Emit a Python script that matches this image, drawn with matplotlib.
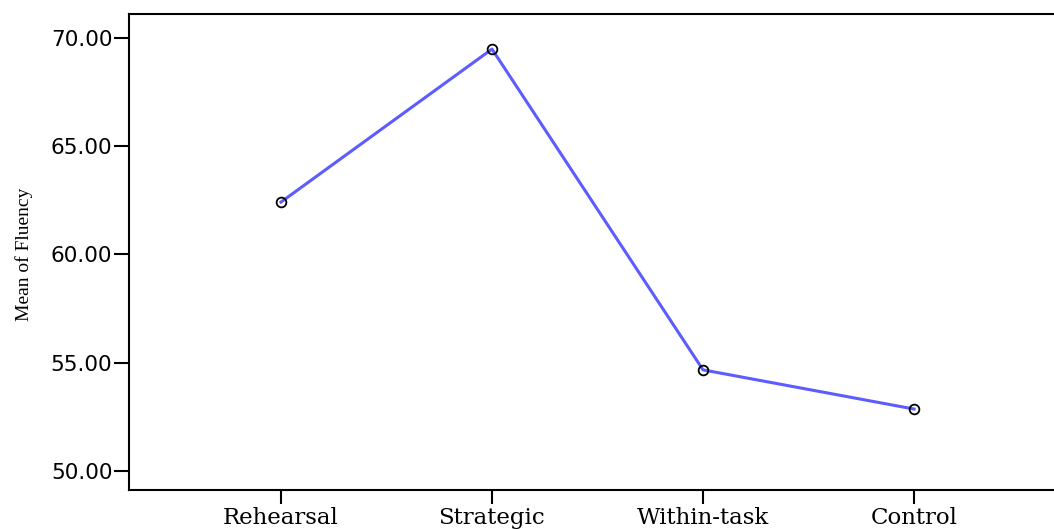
import matplotlib
matplotlib.use("Agg")
import matplotlib.pyplot as plt

categories = ["Rehearsal", "Strategic", "Within-task", "Control"]
means = [62.42, 69.49, 54.67, 52.86]
yticks = [50, 55, 60, 65, 70]
ytick_labels = ["50.00", "55.00", "60.00", "65.00", "70.00"]

fig = plt.figure(figsize=(10.54, 5.29), dpi=100)
W, H = 1054, 529
left, right, top, bottom = 129, 1066, 14, 490
ax = fig.add_axes([left / W, 1 - bottom / H, (right - left) / W, (bottom - top) / H])

x = list(range(len(categories)))
ax.plot(x, means, color="#5c5cff", lw=2.2, zorder=2)
ax.plot(x, means, ls="none", marker="o", ms=7, mfc="none", mec="black", mew=1.3, zorder=3)

ax.set_xlim(-0.72, 3.72)
ax.set_ylim(49.12, 71.11)
ax.set_yticks(yticks)
ax.set_yticklabels(ytick_labels, fontfamily="DejaVu Sans", fontsize=15.5)
ax.set_xticks(x)
ax.set_xticklabels(categories, fontfamily="DejaVu Serif", fontsize=16.5)
ax.tick_params(axis="y", length=11, width=1.5, direction="out", pad=1)
ax.tick_params(axis="x", length=10, width=1.5, direction="out", pad=2)
for s in ["left", "bottom", "top"]:
    ax.spines[s].set_linewidth(1.5)
ax.spines["right"].set_visible(False)

fig.text(24 / W, 1 - 254 / H, "Mean of Fluency", rotation=90, ha="center", va="center",
         fontfamily="Liberation Serif", fontsize=14)

fig.savefig("out.png", dpi=100)
